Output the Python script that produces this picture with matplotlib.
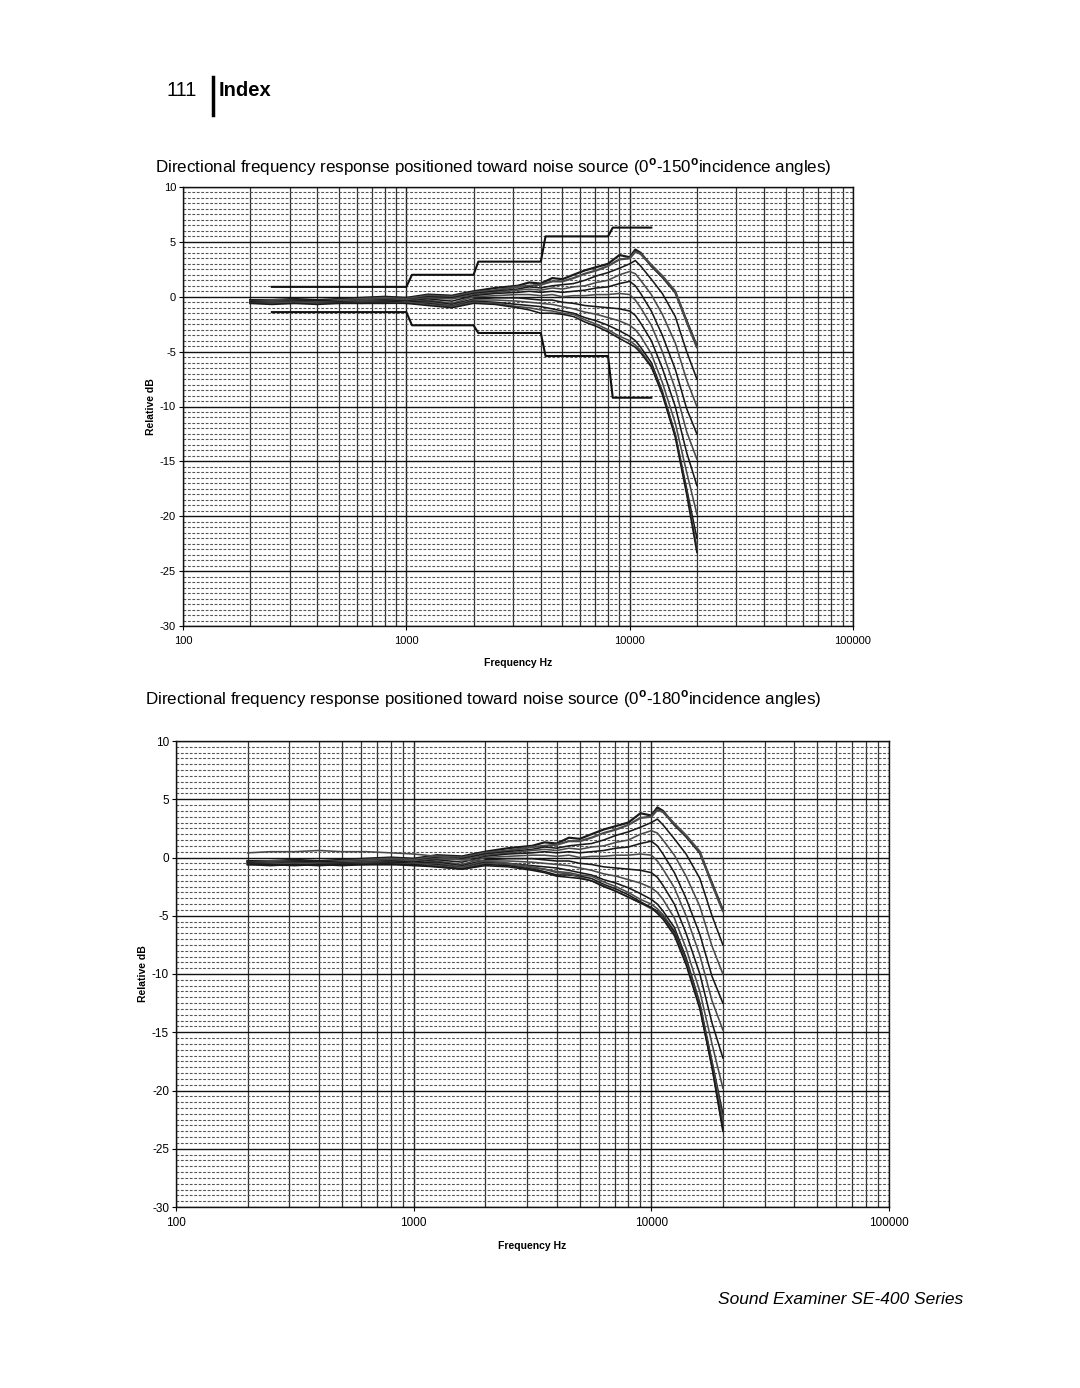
import matplotlib
matplotlib.use('Agg')
import matplotlib.pyplot as plt
import numpy as np
from matplotlib.ticker import FixedLocator, NullFormatter, MultipleLocator

plt.rcParams['font.family'] = ['Liberation Sans', 'DejaVu Sans']
plt.rcParams['mathtext.fontset'] = 'custom'
plt.rcParams['mathtext.rm'] = 'Liberation Sans'
plt.rcParams['mathtext.bf'] = 'Liberation Sans:bold'
plt.rcParams['axes.unicode_minus'] = False

# measurement frequencies (Hz)
freqs = [200, 250, 315, 400, 500, 630, 800, 1000, 1250, 1600, 2000, 2500, 3150,
         3550, 4000, 4500, 5000, 5600, 6300, 7100, 8000, 9000, 10000, 10600,
         11200, 12500, 14000, 16000, 18000, 20000]

# relative response (dB) per incidence angle
resp_0 = [-0.3, -0.3, -0.2, -0.3, -0.2, -0.1, 0.0, -0.1, 0.2, 0.1, 0.5, 0.8, 1.0,
          1.3, 1.2, 1.7, 1.6, 2.0, 2.4, 2.7, 3.0, 3.8, 3.6, 4.3, 4.0, 2.8, 1.8,
          0.4, -2.2, -4.5]
resp_15 = [-0.4, -0.3, -0.3, -0.4, -0.3, -0.2, -0.1, -0.2, 0.1, 0.0, 0.4, 0.6, 0.9,
           1.0, 1.1, 1.4, 1.4, 1.7, 2.1, 2.4, 2.8, 3.4, 3.5, 4.1, 3.9, 2.9, 1.9,
           0.5, -2.3, -4.6]
resp_30 = [-0.3, -0.4, -0.3, -0.3, -0.4, -0.3, -0.2, -0.3, 0.0, -0.1, 0.3, 0.5, 0.7,
           0.9, 0.8, 1.0, 1.1, 1.2, 1.5, 1.9, 2.2, 2.6, 3.0, 3.3, 2.8, 1.6, 0.3,
           -1.8, -5.0, -7.5]
resp_45 = [-0.4, -0.4, -0.4, -0.5, -0.4, -0.3, -0.2, -0.3, -0.1, -0.2, 0.2, 0.4, 0.6,
           0.7, 0.6, 0.8, 0.7, 0.9, 1.0, 1.3, 1.5, 2.0, 2.3, 2.1, 1.5, 0.2, -1.6,
           -4.2, -7.6, -10.0]
resp_60 = [-0.4, -0.5, -0.4, -0.4, -0.5, -0.4, -0.3, -0.4, -0.2, -0.4, 0.1, 0.3, 0.4,
           0.5, 0.4, 0.5, 0.4, 0.5, 0.6, 0.8, 0.9, 1.2, 1.4, 1.0, 0.3, -1.3, -3.5,
           -6.6, -10.2, -12.5]
resp_75 = [-0.5, -0.5, -0.5, -0.5, -0.5, -0.4, -0.4, -0.5, -0.3, -0.6, 0.0, 0.1, 0.2,
           0.2, 0.1, 0.2, 0.0, 0.1, 0.1, 0.2, 0.2, 0.3, 0.2, -0.3, -1.0, -2.6, -5.0,
           -8.4, -12.3, -14.8]
resp_90 = [-0.5, -0.6, -0.5, -0.6, -0.5, -0.5, -0.4, -0.5, -0.4, -0.7, -0.2, -0.1, -0.1,
           -0.2, -0.3, -0.3, -0.5, -0.6, -0.8, -0.9, -1.0, -1.1, -1.3, -1.7, -2.4, -4.0,
           -6.5, -10.0, -14.2, -17.2]
resp_105 = [-0.6, -0.5, -0.6, -0.5, -0.6, -0.5, -0.5, -0.6, -0.5, -0.8, -0.3, -0.3, -0.4,
            -0.5, -0.6, -0.7, -0.9, -1.1, -1.4, -1.6, -1.9, -2.2, -2.6, -3.0, -3.6, -5.2,
            -7.8, -11.5, -16.0, -19.8]
resp_120 = [-0.5, -0.6, -0.6, -0.6, -0.5, -0.6, -0.5, -0.6, -0.6, -0.9, -0.4, -0.5, -0.7,
            -0.8, -0.9, -1.1, -1.3, -1.5, -1.9, -2.2, -2.6, -3.1, -3.6, -4.0, -4.6, -6.0,
            -8.6, -12.5, -17.5, -22.0]
resp_135 = [-0.6, -0.6, -0.5, -0.6, -0.6, -0.6, -0.6, -0.5, -0.7, -0.9, -0.5, -0.6, -0.9,
            -1.0, -1.2, -1.3, -1.5, -1.6, -2.1, -2.5, -3.0, -3.6, -4.0, -4.4, -4.9, -6.3,
            -8.8, -12.6, -17.8, -22.8]
resp_150 = [-0.6, -0.7, -0.6, -0.7, -0.6, -0.6, -0.6, -0.6, -0.8, -1.0, -0.6, -0.7, -1.0,
            -1.2, -1.5, -1.5, -1.6, -1.8, -2.3, -2.7, -3.2, -3.8, -4.3, -4.6, -5.1, -6.4,
            -8.9, -12.8, -18.0, -23.3]
resp_165 = [0.4, 0.5, 0.5, 0.6, 0.5, 0.5, 0.4, 0.3, 0.1, -0.2, -0.3, -0.5, -0.8,
            -1.0, -1.3, -1.4, -1.7, -2.0, -2.4, -2.9, -3.4, -3.9, -4.4, -4.7, -5.2, -6.6,
            -9.0, -12.8, -17.6, -22.5]
resp_180 = [-0.6, -0.6, -0.7, -0.6, -0.7, -0.6, -0.6, -0.7, -0.8, -1.0, -0.7, -0.8, -1.1,
            -1.3, -1.6, -1.7, -1.8, -2.0, -2.5, -2.9, -3.4, -3.9, -4.3, -4.8, -5.3, -6.7,
            -9.2, -13.0, -18.0, -23.5]

curves_150 = [resp_0, resp_15, resp_30, resp_45, resp_60, resp_75, resp_90,
              resp_105, resp_120, resp_135, resp_150]
curves_180 = curves_150 + [resp_165, resp_180]

# tolerance limits drawn on the first chart
tol_freqs = [250, 1000, 1060, 2000, 2100, 4000, 4200, 8000, 8400, 12500]
tol_upper = [0.9, 0.9, 2.0, 2.0, 3.2, 3.2, 5.5, 5.5, 6.3, 6.3]
tol_lower = [-1.4, -1.4, -2.6, -2.6, -3.3, -3.3, -5.4, -5.4, -9.2, -9.2]

x_ticks = [100, 1000, 10000, 100000]
x_tick_labels = ['100', '1000', '10000', '100000']
y_ticks = [-30, -25, -20, -15, -10, -5, 0, 5, 10]


def draw_chart(ax, curves, label_size):
    ax.set_xscale('log')
    ax.set_xlim(100, 100000)
    ax.set_ylim(-30, 10)

    minor = [m * 10 ** e for e in range(2, 5) for m in range(2, 10)]
    ax.xaxis.set_major_locator(FixedLocator(x_ticks))
    ax.xaxis.set_minor_locator(FixedLocator(minor))
    ax.xaxis.set_minor_formatter(NullFormatter())
    ax.set_xticks(x_ticks, x_tick_labels)
    ax.yaxis.set_major_locator(FixedLocator(y_ticks))
    ax.yaxis.set_minor_locator(MultipleLocator(0.5))

    ax.grid(which='major', axis='x', color='#222222', lw=1.0)
    ax.grid(which='minor', axis='x', color='#333333', lw=0.9)
    ax.grid(which='major', axis='y', color='#111111', lw=1.0)
    ax.grid(which='minor', axis='y', color='#555555', lw=0.8, ls=(0, (2.5, 1.5)))
    ax.set_axisbelow(True)

    ax.tick_params(axis='y', which='major', length=3, width=0.8,
                   labelsize=label_size, pad=2)
    ax.tick_params(axis='y', which='minor', length=0)
    ax.tick_params(axis='x', which='major', length=3, width=0.8,
                   labelsize=label_size, pad=4)
    ax.tick_params(axis='x', which='minor', length=0)
    for s in ax.spines.values():
        s.set_linewidth(1.0)
        s.set_color('#111111')

    for i, vals in enumerate(curves):
        col = '#1a1a1a' if i % 2 == 0 else '#4a4a4a'
        lw = 1.6 if i in (0, 1) else 1.15
        ax.plot(freqs, vals, color=col, lw=lw, zorder=3)

    ax.set_xlabel('Frequency Hz', fontsize=7.5, fontweight='bold', labelpad=9)
    ax.set_ylabel('Relative dB', fontsize=7.5, fontweight='bold', labelpad=3)


def main():
    fig = plt.figure(figsize=(10.8, 13.88), dpi=100)

    # page header
    fig.text(167 / 1080, 1 - 90 / 1388, '111', fontsize=14.5, va='center', ha='left')
    fig.add_artist(plt.Line2D([213 / 1080, 213 / 1080],
                              [1 - 77 / 1388, 1 - 115 / 1388], color='black', lw=2.5))
    fig.text(219 / 1080, 1 - 90 / 1388, 'Index', fontsize=14.5, fontweight='bold',
             va='center', ha='left')

    fig.text(155 / 1080, 1 - 167 / 1388,
             r'Directional frequency response positioned toward noise source '
             r'(0$^{\mathbf{o}}$-150$^{\mathbf{o}}$incidence angles)',
             fontsize=12.25, va='center', ha='left')
    fig.text(145 / 1080, 1 - 699 / 1388,
             r'Directional frequency response positioned toward noise source '
             r'(0$^{\mathbf{o}}$-180$^{\mathbf{o}}$incidence angles)',
             fontsize=12.25, va='center', ha='left')

    ax1 = fig.add_axes([183 / 1080, 1 - 626 / 1388, 670 / 1080, 439 / 1388])
    draw_chart(ax1, curves_150, 8)
    ax1.plot(tol_freqs, tol_upper, color='#111111', lw=1.5, zorder=4)
    ax1.plot(tol_freqs, tol_lower, color='#111111', lw=1.5, zorder=4)

    ax2 = fig.add_axes([176 / 1080, 1 - 1207 / 1388, 713 / 1080, 466 / 1388])
    draw_chart(ax2, curves_180, 8.5)

    fig.text(963 / 1080, 1 - 1300 / 1388, 'Sound Examiner SE-400 Series',
             fontsize=12.5, style='italic', va='center', ha='right')

    fig.savefig('out.png', dpi=100)


if __name__ == '__main__':
    main()
